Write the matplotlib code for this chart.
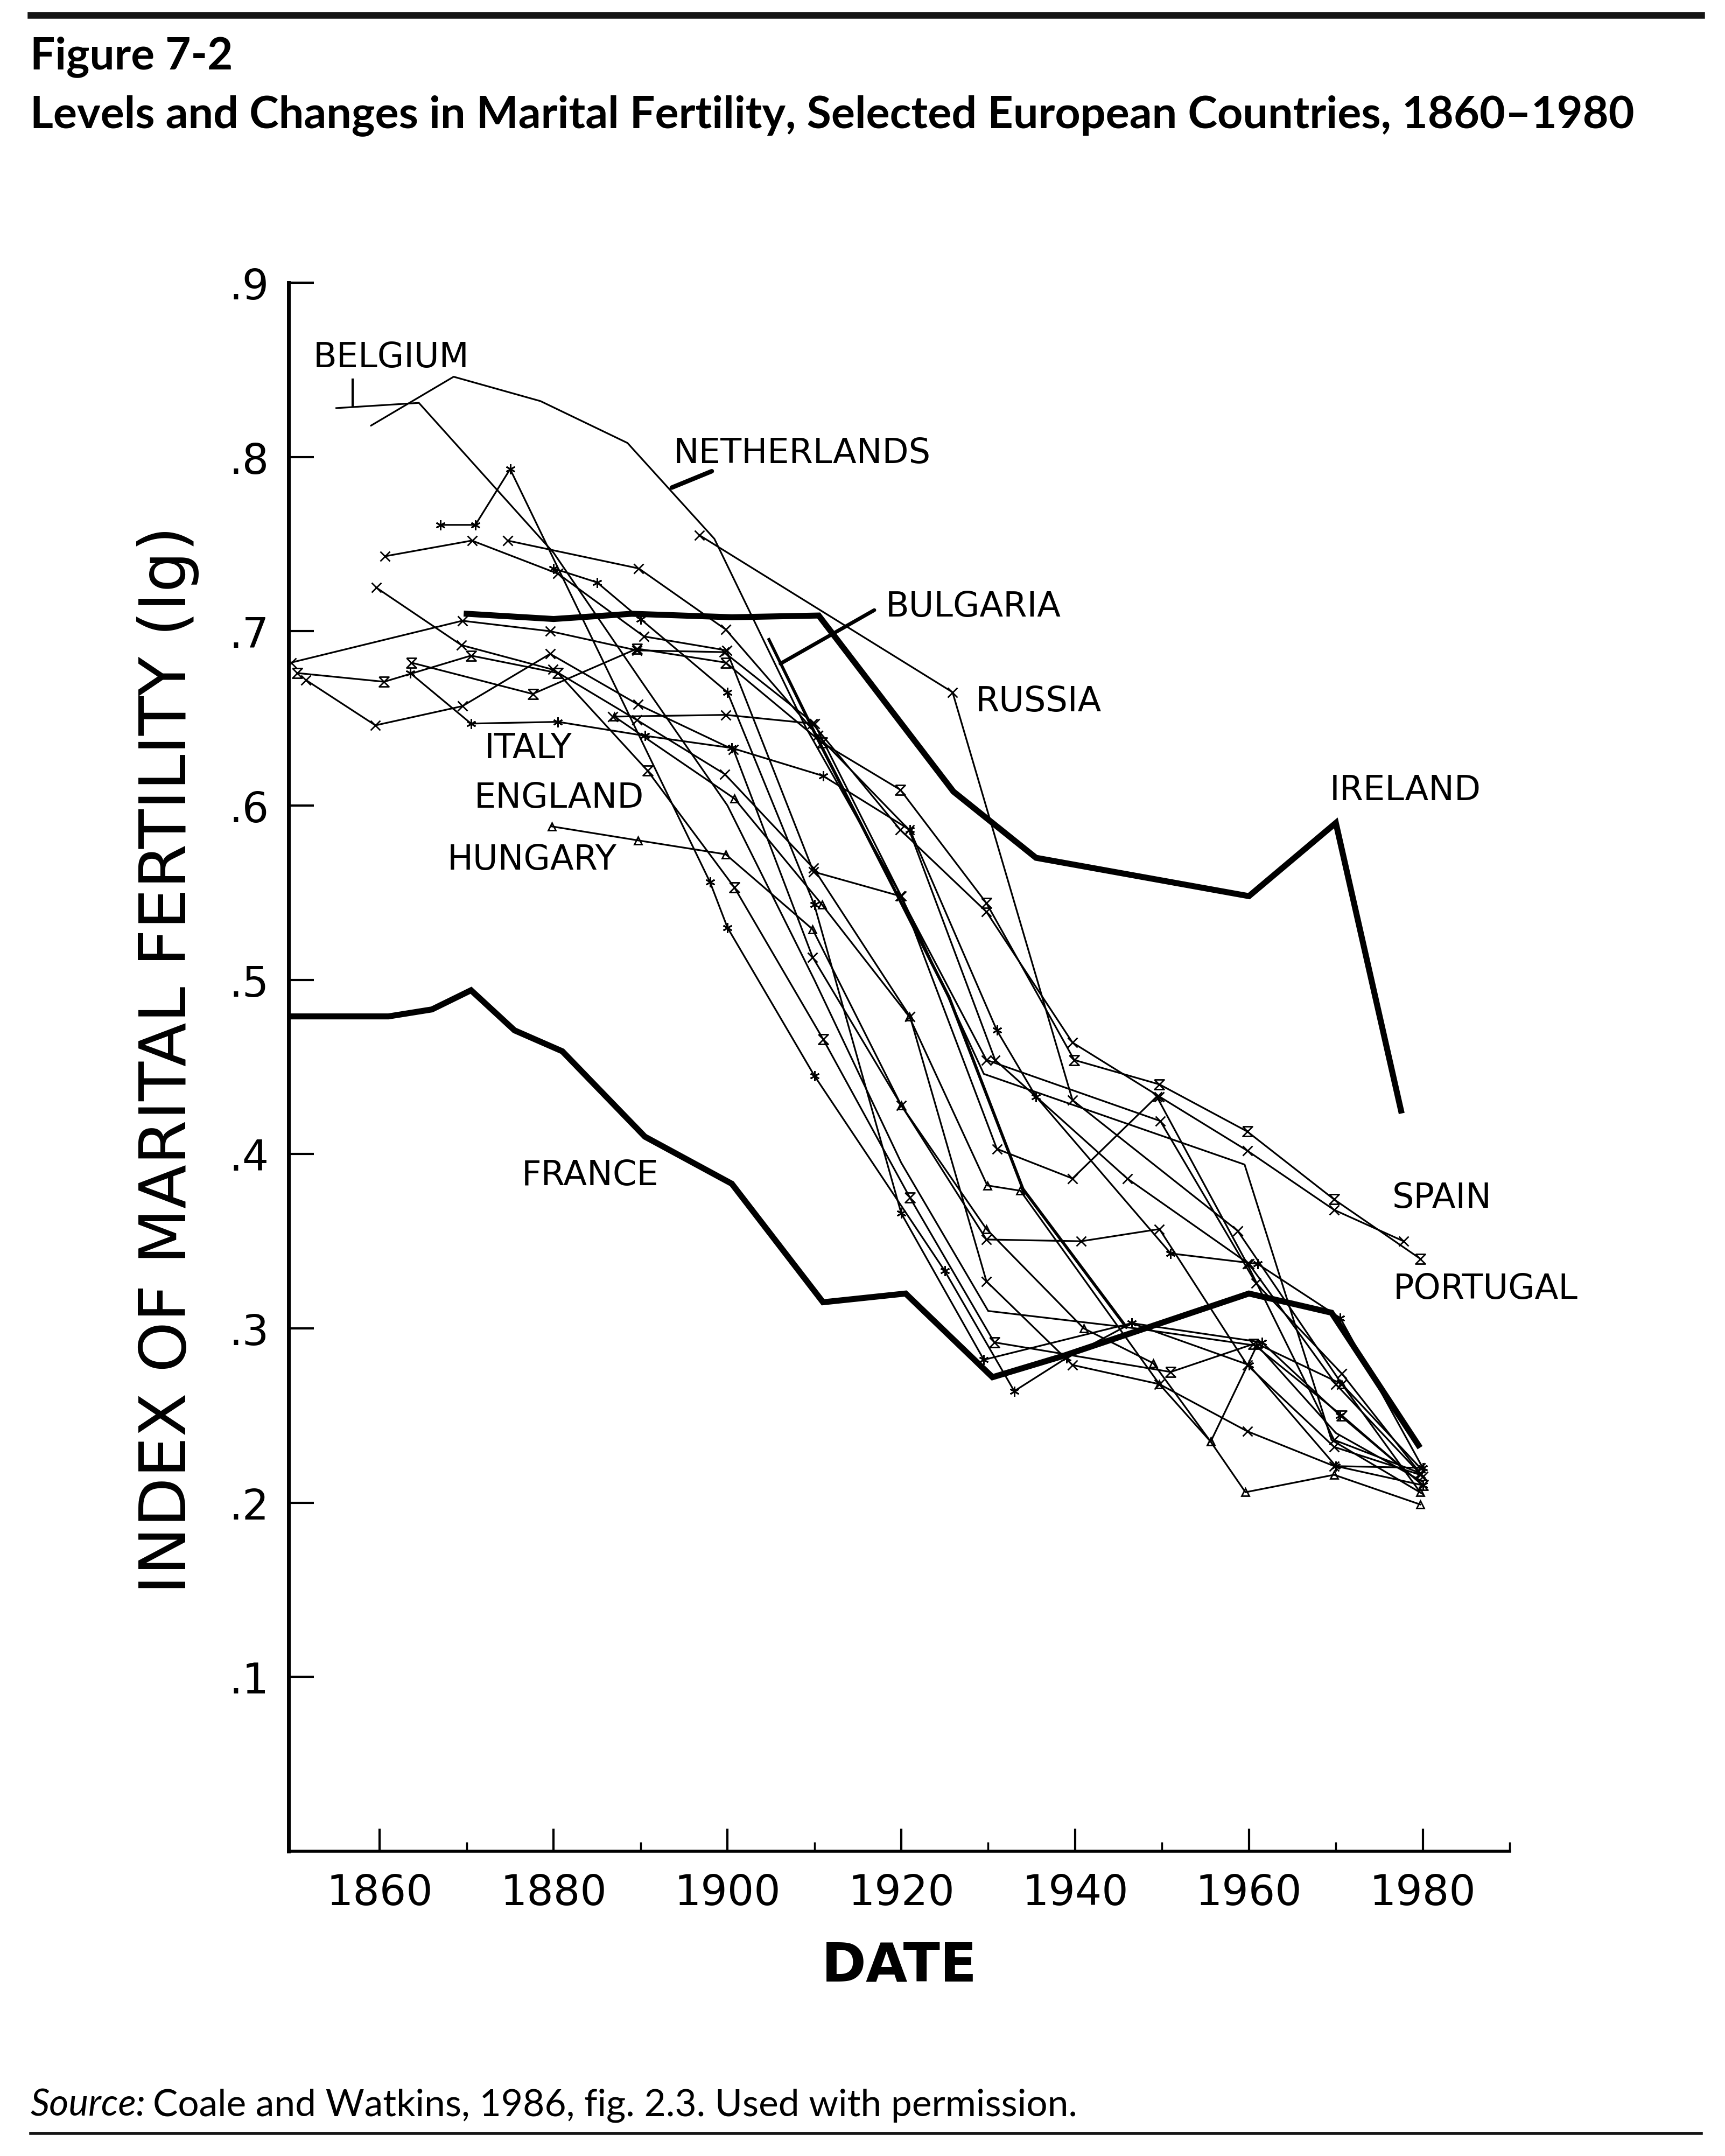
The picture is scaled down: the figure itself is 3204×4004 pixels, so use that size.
import numpy as np
import matplotlib
matplotlib.use("Agg")
import matplotlib.pyplot as plt
from matplotlib.lines import Line2D

# ---- data (Ig values) ----
france_yr = [1850, 1861, 1866, 1870.5, 1875.5, 1881, 1890.5, 1900.5, 1911, 1920.5, 1930.5, 1938.5, 1960, 1969.5, 1979.5]
france_ig = [0.479, 0.479, 0.483, 0.494, 0.471, 0.459, 0.410, 0.383, 0.315, 0.320, 0.272, 0.284, 0.320, 0.309, 0.233]

ireland_yr = [1870, 1880, 1889, 1900.5, 1910.5, 1926, 1935.5, 1960, 1970, 1977.5]
ireland_ig = [0.710, 0.707, 0.710, 0.708, 0.709, 0.608, 0.570, 0.548, 0.590, 0.425]

bulgaria_yr = [1904.7, 1910.4, 1919.6, 1925.5, 1934, 1946]
bulgaria_ig = [0.696, 0.638, 0.548, 0.490, 0.380, 0.300]

belgium_yr = [1855, 1864.5, 1880, 1890, 1900, 1910, 1920, 1930, 1947, 1961, 1970, 1980]
belgium_ig = [0.828, 0.831, 0.745, 0.672, 0.600, 0.500, 0.395, 0.310, 0.300, 0.290, 0.240, 0.212]

netherlands_yr = [1859, 1868.5, 1878.5, 1888.5, 1898.5, 1909, 1920, 1929.5, 1959.5, 1969.5, 1980]
netherlands_ig = [0.818, 0.846, 0.832, 0.808, 0.753, 0.645, 0.548, 0.446, 0.394, 0.236, 0.205]

germany_yr = [1867, 1871, 1875, 1898, 1900, 1910, 1925, 1933, 1939, 1946.5, 1961.5, 1970.5, 1980]
germany_ig = [0.761, 0.761, 0.793, 0.556, 0.530, 0.445, 0.333, 0.264, 0.283, 0.303, 0.292, 0.250, 0.210]

austria_yr = [1880, 1885, 1890, 1900, 1910, 1920, 1929.5, 1946.5, 1960, 1970, 1980]
austria_ig = [0.736, 0.728, 0.707, 0.665, 0.543, 0.366, 0.282, 0.303, 0.279, 0.221, 0.210]

italy_yr = [1863.5, 1870.5, 1880.5, 1890.5, 1900.5, 1911, 1921, 1931, 1935.5, 1951, 1961, 1970.5, 1980]
italy_ig = [0.676, 0.647, 0.648, 0.640, 0.633, 0.617, 0.586, 0.471, 0.433, 0.343, 0.337, 0.306, 0.220]

england_yr = [1850.5, 1860.5, 1870.5, 1880.5, 1890.8, 1900.8, 1911, 1921, 1930.7, 1951, 1960.5, 1970.7, 1980]
england_ig = [0.676, 0.671, 0.686, 0.676, 0.620, 0.553, 0.466, 0.375, 0.292, 0.275, 0.291, 0.250, 0.210]

hungary_yr = [1879.8, 1889.7, 1899.8, 1909.8, 1920, 1929.8, 1941, 1949, 1955.6, 1959.6, 1969.8, 1979.7]
hungary_ig = [0.588, 0.580, 0.572, 0.529, 0.428, 0.357, 0.300, 0.280, 0.235, 0.206, 0.216, 0.199]

portugal_yr = [1863.6, 1877.6, 1889.6, 1899.8, 1910.9, 1919.9, 1929.8, 1939.9, 1949.7, 1959.8, 1969.8, 1979.7]
portugal_ig = [0.682, 0.664, 0.690, 0.682, 0.636, 0.609, 0.544, 0.454, 0.440, 0.413, 0.374, 0.340]

spain_yr = [1886.8, 1899.8, 1909.8, 1919.9, 1929.8, 1939.7, 1949.7, 1959.8, 1969.8, 1977.8]
spain_ig = [0.651, 0.652, 0.647, 0.586, 0.539, 0.464, 0.433, 0.402, 0.368, 0.350]

russia_yr = [1896.8, 1925.9, 1939.7, 1958.7, 1970.7, 1979.7]
russia_ig = [0.755, 0.665, 0.431, 0.356, 0.268, 0.220]

scotland_yr = [1860.6, 1870.6, 1880.5, 1890.4, 1899.9, 1909.9, 1919.9, 1929.8, 1949.8, 1960.8, 1970.7, 1979.7]
scotland_ig = [0.743, 0.752, 0.733, 0.697, 0.689, 0.562, 0.548, 0.454, 0.419, 0.326, 0.274, 0.217]

norway_yr = [1874.7, 1889.8, 1899.8, 1910.4, 1920.9, 1930.8, 1946, 1960, 1970, 1980]
norway_ig = [0.752, 0.736, 0.701, 0.640, 0.586, 0.454, 0.386, 0.337, 0.268, 0.215]

sweden_yr = [1859.6, 1869.4, 1879.9, 1889.6, 1899.7, 1909.9, 1921, 1929.8, 1939.7, 1949.7, 1959.8, 1969.8, 1979.7]
sweden_ig = [0.725, 0.692, 0.678, 0.649, 0.618, 0.564, 0.479, 0.327, 0.279, 0.268, 0.241, 0.221, 0.220]

denmark_yr = [1851.5, 1859.5, 1869.5, 1879.6, 1889.7, 1900.7, 1909.8, 1920, 1929.8, 1940.7, 1949.7, 1959.8, 1969.8, 1979.7]
denmark_ig = [0.672, 0.646, 0.657, 0.687, 0.658, 0.632, 0.513, 0.428, 0.351, 0.350, 0.357, 0.279, 0.232, 0.216]

finland_yr = [1849.8, 1869.5, 1879.6, 1889.6, 1899.6, 1910, 1920, 1931, 1939.7, 1949.4, 1959.8, 1969.8, 1979.7]
finland_ig = [0.682, 0.706, 0.700, 0.689, 0.688, 0.647, 0.548, 0.403, 0.386, 0.433, 0.337, 0.236, 0.217]

swiss_yr = [1887, 1900.8, 1910.9, 1920.9, 1929.9, 1933.7, 1949.7, 1955.6, 1961, 1970.7, 1979.7]
swiss_ig = [0.651, 0.604, 0.543, 0.479, 0.382, 0.379, 0.268, 0.235, 0.291, 0.268, 0.206]

x_ticks = [1860, 1880, 1900, 1920, 1940, 1960, 1980]
y_ticks = [0.1, 0.2, 0.3, 0.4, 0.5, 0.6, 0.7, 0.8, 0.9]
y_ticklabels = ['.1', '.2', '.3', '.4', '.5', '.6', '.7', '.8', '.9']

# marker shapes
hourglass = [(-1, 1), (1, 1), (-1, -1), (1, -1), (-1, 1)]
asterisk = (6, 2, 0)

fig = plt.figure(figsize=(32.05, 40.05), dpi=100)
ax = fig.add_axes([0.1672, 0.1413, 0.7077, 0.7274])

thin = dict(color='black', lw=2.3, ms=13, mew=2.0, mfc='none', mec='black')

# unmarked lines
ax.plot(belgium_yr, belgium_ig, color='black', lw=2.3)
ax.plot(netherlands_yr, netherlands_ig, color='black', lw=2.3)

# marked lines
ax.plot(germany_yr, germany_ig, marker=asterisk, **thin)
ax.plot(austria_yr, austria_ig, marker=asterisk, **thin)
ax.plot(italy_yr, italy_ig, marker=asterisk, **thin)
ax.plot(england_yr, england_ig, marker=hourglass, **thin)
ax.plot(hungary_yr, hungary_ig, marker='^', **dict(thin, ms=10))
ax.plot(portugal_yr, portugal_ig, marker=hourglass, **thin)
ax.plot(spain_yr, spain_ig, marker='x', **thin)
ax.plot(russia_yr, russia_ig, marker='x', **thin)
ax.plot(scotland_yr, scotland_ig, marker='x', **thin)
ax.plot(norway_yr, norway_ig, marker='x', **thin)
ax.plot(sweden_yr, sweden_ig, marker='x', **thin)
ax.plot(denmark_yr, denmark_ig, marker='x', **thin)
ax.plot(finland_yr, finland_ig, marker='x', **thin)
ax.plot(swiss_yr, swiss_ig, marker='^', **dict(thin, ms=10))

# heavy lines
ax.plot(bulgaria_yr, bulgaria_ig, color='black', lw=4, solid_capstyle='butt')
ax.plot(ireland_yr, ireland_ig, color='black', lw=8, solid_joinstyle='miter')
ax.plot(france_yr, france_ig, color='black', lw=8, solid_joinstyle='miter')

# leader lines for labels
ax.plot([1856.9, 1856.9], [0.8445, 0.829], color='black', lw=3)
ax.plot([1893.6, 1898.2], [0.7824, 0.7918], color='black', lw=6, solid_capstyle='round')
ax.plot([1906.1, 1916.9], [0.6814, 0.7121], color='black', lw=5, solid_capstyle='round')

lab = dict(fontsize=46, ha='center', va='center', family='DejaVu Sans')
ax.text(1861.3, 0.8573, 'BELGIUM', **lab)
ax.text(1908.6, 0.8024, 'NETHERLANDS', **lab)
ax.text(1928.3, 0.7142, 'BULGARIA', **lab)
ax.text(1935.8, 0.6600, 'RUSSIA', **lab)
ax.text(1877.1, 0.6330, 'ITALY', **lab)
ax.text(1880.6, 0.6047, 'ENGLAND', **lab)
ax.text(1877.5, 0.5691, 'HUNGARY', **lab)
ax.text(1978.0, 0.6090, 'IRELAND', **lab)
ax.text(1884.2, 0.3880, 'FRANCE', **lab)
ax.text(1982.2, 0.3750, 'SPAIN', **lab)
ax.text(1987.2, 0.3230, 'PORTUGAL', **lab)

ax.set_xlim(1849.5, 1990)
ax.set_ylim(0, 0.9)
ax.spines['top'].set_visible(False)
ax.spines['right'].set_visible(False)
ax.spines['left'].set_linewidth(5)
ax.spines['bottom'].set_linewidth(4)

ax.set_xticks(x_ticks)
ax.set_xticks([1870, 1890, 1910, 1930, 1950, 1970, 1990], minor=True)
ax.set_yticks(y_ticks)
ax.set_yticklabels(y_ticklabels)
ax.tick_params(axis='x', which='major', direction='in', length=30, width=3,
               labelsize=56, pad=28)
ax.tick_params(axis='x', which='minor', direction='in', length=12, width=2.5)
ax.tick_params(axis='y', which='major', direction='in', length=34, width=3,
               labelsize=56, pad=26)

ax.set_xlabel('DATE', fontsize=72, fontweight='bold', labelpad=36)
ax.set_ylabel('INDEX OF MARITAL FERTILITY (Ig)', fontsize=86)
ax.yaxis.set_label_coords(-0.073, 0.505)

# header / footer
fig.add_artist(Line2D([0.0178, 0.986], [0.9928, 0.9928], color='#151515', lw=9))
fig.text(0.0175, 0.968, 'Figure 7-2', fontsize=59, fontweight='bold',
         family='Lato', va='baseline')
fig.text(0.0175, 0.9408,
         'Levels and Changes in Marital Fertility, Selected European Countries, 1860\u20131980',
         fontsize=59.5, fontweight='bold', family='Lato', va='baseline')

src = fig.text(0.0175, 0.0188, 'Source:', fontsize=50, style='italic',
               family='Lato', va='baseline')
renderer = fig.canvas.get_renderer()
bb = src.get_window_extent(renderer)
fig.text((bb.x1 + 14) / fig.bbox.width, 0.0188,
         'Coale and Watkins, 1986, fig. 2.3. Used with permission.',
         fontsize=50, family='Lato', va='baseline')
fig.add_artist(Line2D([0.0178, 0.986], [0.0105, 0.0105], color='#151515', lw=4))

fig.savefig('out.png', dpi=100, facecolor='white')
